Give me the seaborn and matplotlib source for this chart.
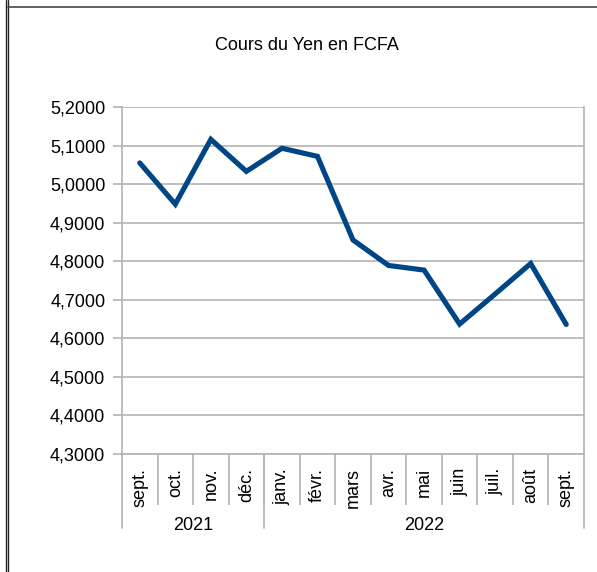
import matplotlib
matplotlib.use("Agg")
import matplotlib.pyplot as plt
import matplotlib.transforms as mtransforms
from matplotlib.lines import Line2D
import seaborn as sns
import pandas as pd

months = ["sept.", "oct.", "nov.", "déc.", "janv.", "févr.", "mars", "avr.",
          "mai", "juin", "juil.", "août", "sept."]
years = ["2021", "2022"]
year_spans = [4, 9]  # number of months belonging to each year
rates = [5.055, 4.948, 5.116, 5.033, 5.093, 5.072, 4.855, 4.789, 4.777,
         4.637, 4.715, 4.794, 4.636]
yticks = [4.3, 4.4, 4.5, 4.6, 4.7, 4.8, 4.9, 5.0, 5.1, 5.2]
title = "Cours du Yen en FCFA"

sns.set_theme(style="white")
plt.rcParams["font.family"] = ["Liberation Sans", "DejaVu Sans"]

FS = 13
GRID = "#b3b3b3"
LINE = "#004586"

df = pd.DataFrame({"pos": range(len(months)), "rate": rates})

fig = plt.figure(figsize=(5.97, 5.72), dpi=100)
ax = fig.add_axes([122 / 597, 1 - 454 / 572, (584 - 122) / 597, (454 - 107) / 572])

sns.lineplot(data=df, x="pos", y="rate", ax=ax, color=LINE, linewidth=3.7,
             solid_joinstyle="miter", legend=False)

ax.set_xlim(-0.5, len(months) - 0.5)
ax.set_ylim(4.3, 5.2)
ax.set_yticks(yticks)
ax.set_yticklabels([f"{v:.4f}".replace(".", ",") for v in yticks], fontsize=FS,
                   color="black")
ax.yaxis.grid(True, color=GRID, linewidth=1.2)
ax.xaxis.grid(False)
ax.tick_params(axis="y", length=6.5, width=1.2, color=GRID, pad=5.5, left=True)

# separators at boundaries (major), month labels at centers (minor)
ax.set_xticks([i + 0.5 for i in range(len(months) - 1)], labels=[])
ax.set_xticks(list(range(len(months))), labels=months, minor=True)
ax.tick_params(axis="x", which="minor", length=0, pad=10, labelrotation=90,
               labelsize=FS, labelcolor="black")
ax.tick_params(axis="x", which="major", length=36.5, width=1.2, color=GRID,
               bottom=True, direction="out")
for lab in ax.get_xticklabels(minor=True):
    lab.set_verticalalignment("top")
    lab.set_horizontalalignment("center")

for s in ["left", "bottom", "right"]:
    ax.spines[s].set_color(GRID)
    ax.spines[s].set_linewidth(1.2)
ax.spines["top"].set_visible(False)
ax.set_xlabel("")
ax.set_ylabel("")

# year group separators and labels
trans = mtransforms.blended_transform_factory(ax.transData, ax.transAxes)
frac_per_px = 1 / (454 - 107)
bounds = [-0.5]
for span in year_spans:
    bounds.append(bounds[-1] + span)
for b in bounds:
    ax.add_line(Line2D([b, b], [0, -74 * frac_per_px], transform=trans,
                       color=GRID, linewidth=1.2, clip_on=False))
for i, yr in enumerate(years):
    cx = (bounds[i] + bounds[i + 1]) / 2
    ax.text(cx, -71 * frac_per_px, yr, transform=trans, ha="center", va="center",
            fontsize=FS, color="black")

fig.text(307 / 597, 1 - 45 / 572, title, ha="center", va="center", fontsize=FS,
         color="black")

# outer frame lines
for xp in (5.5, 7.5):
    fig.add_artist(Line2D([xp / 597, xp / 597], [0, 1], transform=fig.transFigure,
                          color="#222222", linewidth=1.0))
fig.add_artist(Line2D([7.5 / 597, 1], [1 - 6.5 / 572, 1 - 6.5 / 572],
                      transform=fig.transFigure, color="#444444", linewidth=1.2))

fig.savefig("out.png", dpi=100)
